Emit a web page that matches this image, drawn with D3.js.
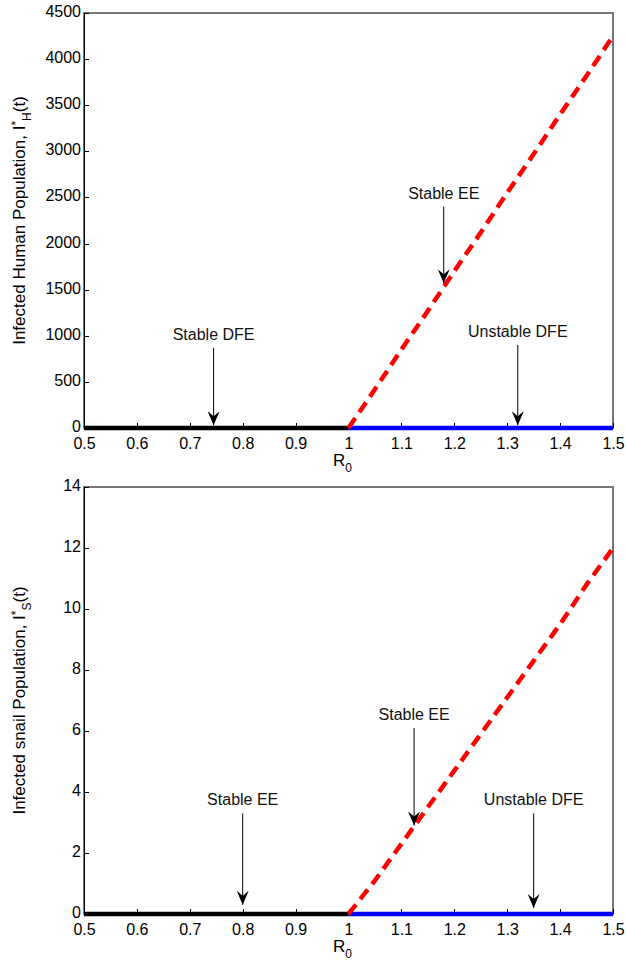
<!DOCTYPE html>
<html lang="en">
<head>
<meta charset="utf-8">
<title>Equilibrium branches vs R0</title>
<script src="https://cdn.jsdelivr.net/npm/d3@7"></script>
<style>
  body { margin: 0; background: #fff; }
  svg { font-family: "Liberation Sans", Arial, sans-serif; }
  .axis text { font-size: 16px; fill: #000; }
  .axis path, .axis line { stroke: #000; shape-rendering: crispEdges; }
  .note { font-size: 16px; fill: #111; }
</style>
</head>
<body>
<script>
// R0 values for the branches
var dfeLeft = [0.5, 1.0];
var dfeRight = [1.0, 1.5];
var eeR0 = [1.0, 1.05, 1.1, 1.15, 1.2, 1.25, 1.3, 1.35, 1.4, 1.45, 1.5];
// endemic equilibrium, human and snail
var eeHuman = [0, 420, 850, 1270, 1700, 2120, 2550, 2970, 3400, 3820, 4250];
var eeSnail = [0, 1.1, 2.3, 3.5, 4.7, 5.9, 7.1, 8.3, 9.5, 10.8, 12.0];
var xTicks = [0.5, 0.6, 0.7, 0.8, 0.9, 1, 1.1, 1.2, 1.3, 1.4, 1.5];
var humanTicks = [0, 500, 1000, 1500, 2000, 2500, 3000, 3500, 4000, 4500];
var snailTicks = [0, 2, 4, 6, 8, 10, 12, 14];
// annotations: [R0, tip value, tail value, label]
var humanNotes = [[0.745, 30, 870, "Stable DFE"], [1.18, 1570, 2400, "Stable EE"], [1.32, 30, 900, "Unstable DFE"]];
var snailNotes = [[0.8, 0.3, 3.3, "Stable EE"], [1.124, 2.9, 6.1, "Stable EE"], [1.35, 0.2, 3.3, "Unstable DFE"]];

var W = 626, H = 965;
var svg = d3.select("body").append("svg").attr("width", W).attr("height", H);

// barbed arrow head, drawn pointing along +x
svg.append("defs").append("marker")
    .attr("id", "head")
    .attr("viewBox", "0 0 14 12")
    .attr("refX", 14).attr("refY", 6)
    .attr("markerWidth", 14).attr("markerHeight", 12)
    .attr("markerUnits", "userSpaceOnUse")
    .attr("orient", "auto")
  .append("path")
    .attr("d", "M0,0 L14,6 L0,12 L5,6 Z")
    .attr("fill", "#000");

function panel(top, bottom, yTicks, yMax, eeVals, notes, ylab, sub) {
  var left = 84, right = 613;
  var x = d3.scaleLinear().domain([0.5, 1.5]).range([left, right]);
  var y = d3.scaleLinear().domain([0, yMax]).range([bottom, top]);
  var g = svg.append("g");

  // box
  g.append("rect").attr("x", left).attr("y", top)
    .attr("width", right - left).attr("height", bottom - top)
    .attr("fill", "none").attr("stroke", "#777").attr("stroke-width", 1.5)
    .style("shape-rendering", "crispEdges");

  g.append("g").attr("class", "axis")
    .attr("transform", "translate(0," + bottom + ")")
    .call(d3.axisBottom(x).tickValues(xTicks).tickSizeInner(-5).tickSizeOuter(0).tickPadding(10)
      .tickFormat(function(d) { return d === 1 ? "1" : d3.format(".1f")(d); }))
    .call(function(a) { a.select(".domain").remove(); });

  g.append("g").attr("class", "axis")
    .attr("transform", "translate(" + left + ",0)")
    .call(d3.axisLeft(y).tickValues(yTicks).tickSizeInner(-5).tickSizeOuter(0).tickPadding(3)
      .tickFormat(d3.format("d")))
    .call(function(a) { a.select(".domain").remove(); a.selectAll(".tick text").attr("dy", "0.22em"); });

  g.append("line").attr("x1", left).attr("x2", left).attr("y1", top).attr("y2", bottom)
    .attr("stroke", "#000").style("shape-rendering", "crispEdges");

  var line = d3.line().x(function(d) { return x(d[0]); }).y(function(d) { return y(d[1]); });

  g.append("path").attr("d", line(dfeLeft.map(function(r) { return [r, 0]; })))
    .attr("stroke", "#000").attr("stroke-width", 4.5).attr("fill", "none");
  g.append("path").attr("d", line(dfeRight.map(function(r) { return [r, 0]; })))
    .attr("stroke", "#0000ff").attr("stroke-width", 4.5).attr("fill", "none");
  g.append("path").attr("d", line(eeR0.map(function(r, i) { return [r, eeVals[i]]; })))
    .attr("stroke", "#ff0000").attr("stroke-width", 4.5).attr("fill", "none")
    .attr("stroke-dasharray", "12,7");

  notes.forEach(function(n) {
    g.append("line")
      .attr("x1", x(n[0])).attr("x2", x(n[0]))
      .attr("y1", y(n[2])).attr("y2", y(n[1]))
      .attr("stroke", "#000").attr("stroke-width", 1)
      .attr("marker-end", "url(#head)");
    g.append("text").attr("class", "note")
      .attr("x", x(n[0])).attr("y", y(n[2]) - 8)
      .attr("text-anchor", "middle").text(n[3]);
  });

  // x label
  var xl = g.append("text").attr("x", (left + right) / 2 - 6).attr("y", bottom + 38)
    .attr("font-size", 17).attr("text-anchor", "middle");
  xl.append("tspan").text("R");
  xl.append("tspan").attr("font-size", 12).attr("dy", 6).text("0");

  // y label
  var yl = g.append("text")
    .attr("transform", "translate(25," + ((top + bottom) / 2) + ") rotate(-90)")
    .attr("font-size", 17).attr("text-anchor", "middle");
  yl.append("tspan").text(ylab + ", I");
  yl.append("tspan").attr("dy", -5).attr("font-size", 12).text("*");
  yl.append("tspan").attr("dy", 11).attr("font-size", 12).text(sub);
  yl.append("tspan").attr("dy", -6).text("(t)");
}

panel(13, 428, humanTicks, 4500, eeHuman, humanNotes, "Infected Human Population", "H");
panel(487, 914, snailTicks, 14, eeSnail, snailNotes, "Infected snail Population", "S");
</script>
</body>
</html>
